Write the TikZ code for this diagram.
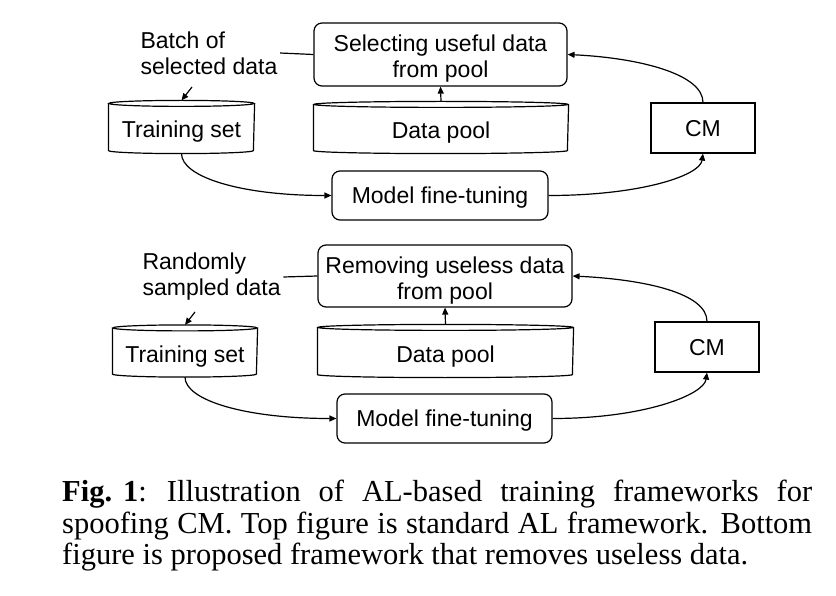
\documentclass[tikz,border=0pt]{standalone}
\usepackage{fontspec}
\setmainfont{Liberation Sans}
\newfontfamily\capfont{Liberation Serif}
\usetikzlibrary{arrows.meta,calc}
\tikzset{
  base/.style={line width=1.2pt, font=\fontsize{23}{26}\selectfont, inner sep=0pt, align=center},
  one/.style={text height=16.5pt, text depth=0pt},
  two/.style={text height=46.5pt, text depth=0pt},
  rbox/.style={base, draw, rounded corners=8pt},
  sbox/.style={base, draw},
  cylnode/.style={base, text height=22pt, text depth=0pt},
  lbl/.style={base, align=left},
  arr/.style={line width=1.2pt, -{Triangle[length=7pt,width=6pt]}},
  ln/.style={line width=1.2pt},
  capstyle/.style={inner sep=0pt, text width=750pt, align=justify, font=\capfont\fontsize{30.5}{31.5}\selectfont}
}
\newcommand\cylout[2]{%
  \draw[ln] ([yshift=-3pt]#1.north west) -- ([yshift=3pt]#1.south west)
     arc[start angle=180, end angle=360, x radius=#2, y radius=3pt]
     -- ([yshift=-3pt]#1.north east);
  \draw[ln] ([yshift=-3pt]#1.north) ellipse[x radius=#2, y radius=3pt];}
\begin{document}
\begin{tikzpicture}[x=1pt,y=1pt]
\useasboundingbox (0,0) rectangle (836,-596);
% ---------- top diagram ----------
\node[rbox, two, minimum width=253pt, minimum height=63pt] (sel) at (440.5,-54.5) {Selecting useful data\\from pool};
\node[cylnode, minimum width=254pt, minimum height=51pt] (dp) at (441,-127.5) {Data pool};
\cylout{dp}{127pt}
\node[cylnode, minimum width=145pt, minimum height=52pt] (tr) at (181.5,-127) {Training set};
\cylout{tr}{72.5pt}
\node[sbox, one, minimum width=104pt, minimum height=50pt] (cm) at (703,-128) {CM};
\node[rbox, one, minimum width=216pt, minimum height=49pt] (mft) at (440,-195.5) {Model fine-tuning};
\node[lbl, anchor=west] (lab) at (140,-53) {Batch of\\selected data};
\coordinate (labt) at (192,-87);
\draw[ln] (sel.west) -- ([xshift=2pt]lab.east);
\draw[arr] (labt) -- (tr.north);
\draw[arr] (dp.north) -- (sel.south);
\draw[arr] (tr.south) .. controls ($(tr.south)+(0,-23)$) and ($(mft.west)+(-92,0)$) .. (mft.west);
\draw[arr] (mft.east) .. controls ($(mft.east)+(92,0)$) and ($(cm.south)+(-3,-22)$) .. (cm.south);
\draw[arr] (cm.north) .. controls ($(cm.north)+(0,28)$) and ($(sel.east)+(73,-3.5)$) .. (sel.east);
% ---------- bottom diagram ----------
\node[rbox, two, minimum width=254pt, minimum height=62pt] (rem) at (445,-276) {Removing useless data\\from pool};
\node[cylnode, minimum width=255pt, minimum height=52pt] (dpb) at (445.5,-351) {Data pool};
\cylout{dpb}{127.5pt}
\node[cylnode, minimum width=144pt, minimum height=51pt] (trb) at (185,-351) {Training set};
\cylout{trb}{72pt}
\node[sbox, one, minimum width=104pt, minimum height=50pt] (cmb) at (707,-347) {CM};
\node[rbox, one, minimum width=215pt, minimum height=49pt] (mftb) at (444.5,-418.5) {Model fine-tuning};
\node[lbl, anchor=west] (labb) at (142,-277) {Randomly\\sampled data};
\coordinate (labbt) at (195,-312);
\draw[ln] (rem.west) -- ([xshift=2pt]labb.east);
\draw[arr] (labbt) -- (trb.north);
\draw[arr] (dpb.north) -- (rem.south);
\draw[arr] (trb.south) .. controls ($(trb.south)+(0,-23)$) and ($(mftb.west)+(-92,0)$) .. (mftb.west);
\draw[arr] (mftb.east) .. controls ($(mftb.east)+(92,0)$) and ($(cmb.south)+(-3,-22)$) .. (cmb.south);
\draw[arr] (cmb.north) .. controls ($(cmb.north)+(0,28)$) and ($(rem.east)+(73,-3.5)$) .. (rem.east);
% ---------- caption ----------
\node[capstyle, anchor=north west] (cap) at (62,-480) {\textbf{Fig.\hspace{11pt}1}:\hspace{20pt}Illustration of AL-based training frameworks for\linebreak spoofing CM. Top figure is standard AL framework. Bottom\linebreak figure is proposed framework that removes useless data.};
\end{tikzpicture}
\end{document}
